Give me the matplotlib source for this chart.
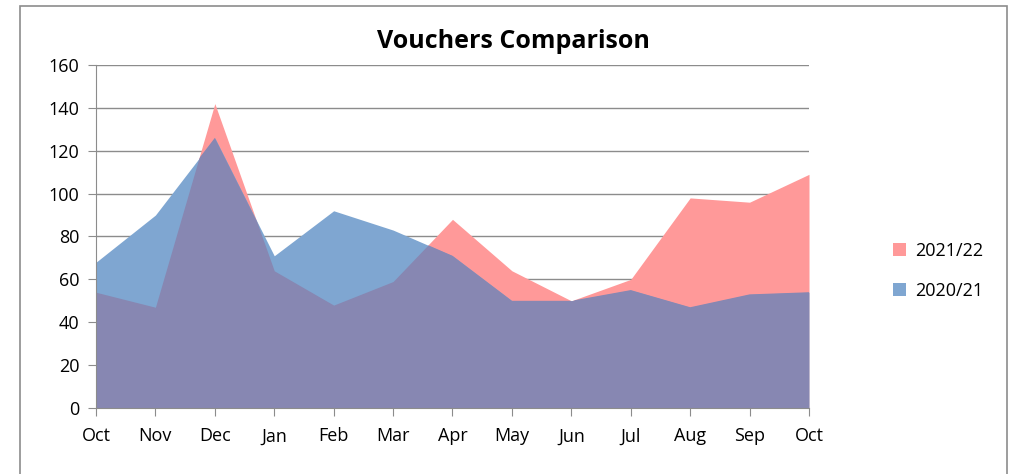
import numpy as np
import matplotlib.pyplot as plt
from matplotlib.patches import Rectangle

plt.rcParams["font.family"] = ["Open Sans", "DejaVu Sans"]

months = ["Oct", "Nov", "Dec", "Jan", "Feb", "Mar", "Apr", "May", "Jun", "Jul", "Aug", "Sep", "Oct"]
vouchers_2122 = [54, 47, 142, 64, 48, 59, 88, 64, 50, 60, 98, 96, 109]
vouchers_2021 = [68, 90, 126, 71, 92, 83, 71, 50, 50, 55, 47, 53, 54]
y_ticks = [0, 20, 40, 60, 80, 100, 120, 140, 160]

red, blue, overlap = "#ff9999", "#7fa6d1", "#8787b2"

fig = plt.figure(figsize=(10.1, 4.74), dpi=100)
ax = fig.add_axes([96 / 1010, 66 / 474, 713 / 1010, 343 / 474])
x = np.arange(len(months))

# outer chart border
fig.patches.append(Rectangle((20 / 1010, -0.05), 987 / 1010, 1.05 - 6 / 474, transform=fig.transFigure,
                             fill=False, edgecolor="#8c8c8c", linewidth=1.2))

ax.fill_between(x, vouchers_2122, color=red, linewidth=0, label="2021/22", zorder=2)
blue_area = ax.fill_between(x, vouchers_2021, color=blue, linewidth=0, label="2020/21", zorder=2)
# overlap: red area clipped to blue area
both = ax.fill_between(x, vouchers_2122, color=overlap, linewidth=0, zorder=3)
both.set_clip_path(blue_area.get_paths()[0], ax.transData)

ax.set_xlim(0, len(months) - 1)
ax.set_ylim(0, 160)
ax.set_yticks(y_ticks)
ax.set_xticks(x)
ax.set_xticklabels(months)
ax.yaxis.grid(True, color="#8c8c8c", linewidth=1)
ax.set_axisbelow(True)
for s in ["top", "right"]:
    ax.spines[s].set_visible(False)
for s in ["left", "bottom"]:
    ax.spines[s].set_color("#8c8c8c")
    ax.spines[s].set_zorder(4)
ax.tick_params(axis="both", colors="#8c8c8c", labelcolor="black", labelsize=13, length=6)
ax.tick_params(axis="x", pad=8)
ax.tick_params(axis="y", pad=6)

# title is centred over the whole chart box, as in Excel
fig.text(513 / 1010, 1 - 42 / 474, "Vouchers Comparison", fontsize=18, fontweight="bold",
         ha="center", va="center")

ax.legend(loc="center left", bbox_to_anchor=(1.095, 0.40), frameon=False, fontsize=13,
          handlelength=0.7, handleheight=0.7, labelspacing=1.2, handletextpad=0.5)

fig.savefig("out.png")
